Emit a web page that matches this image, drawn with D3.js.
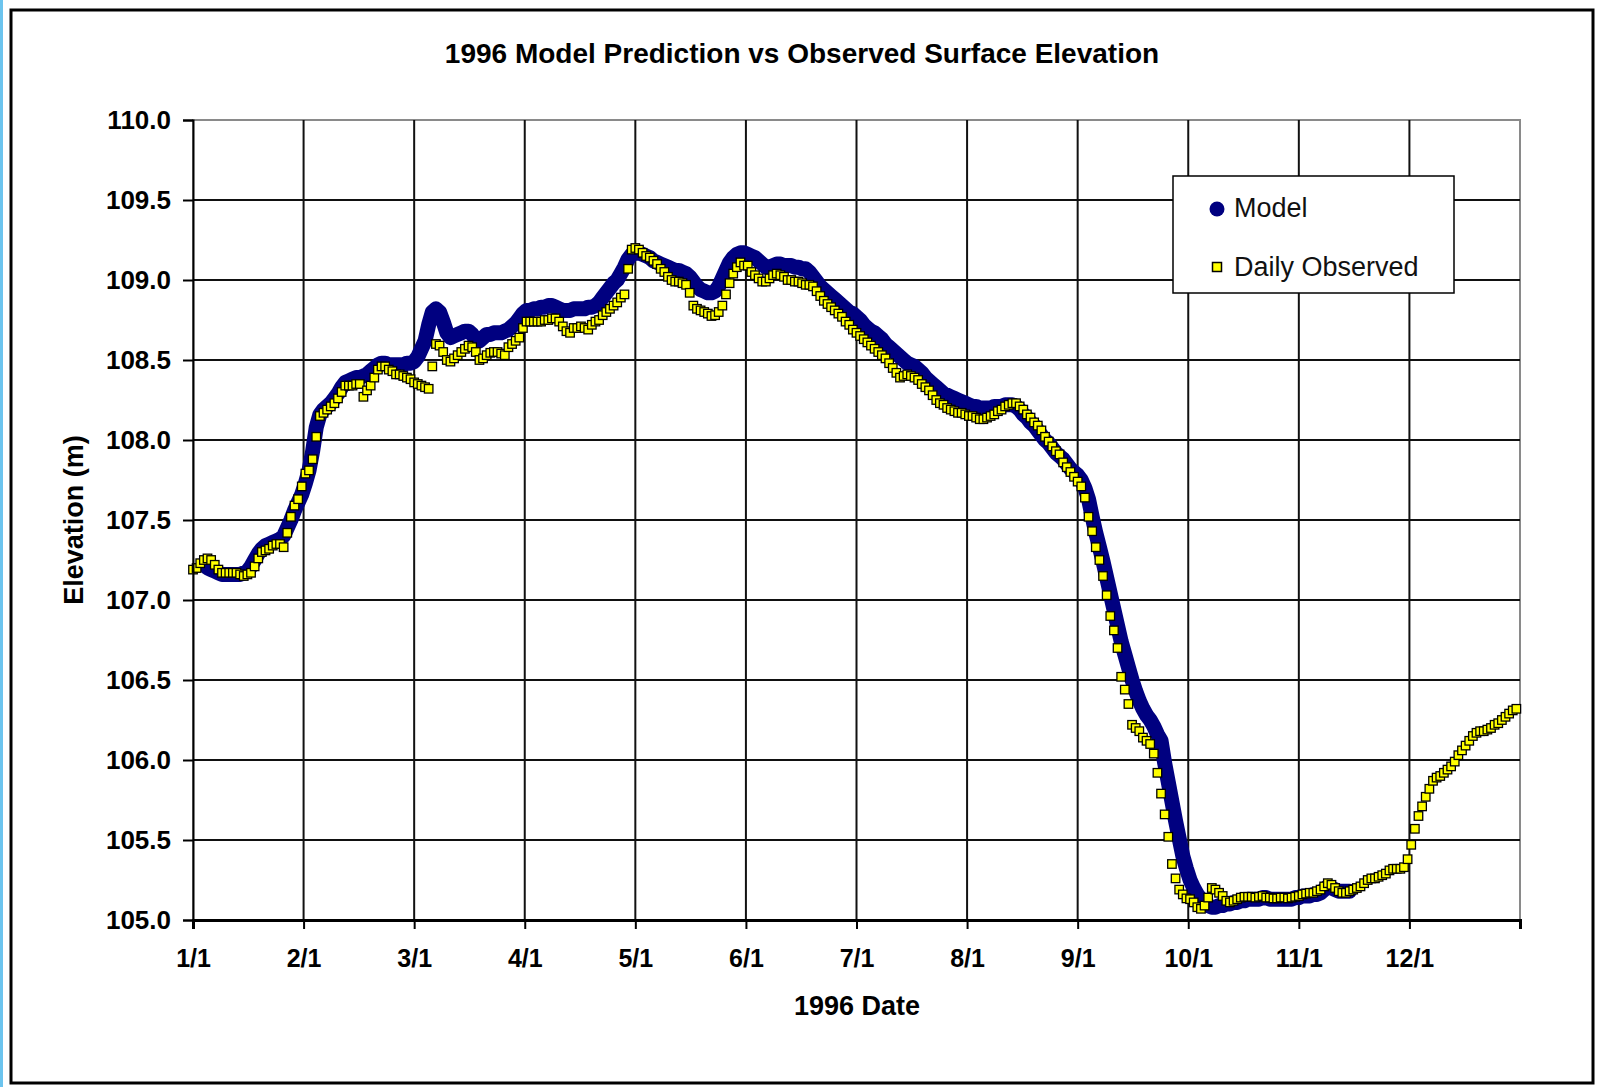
<!DOCTYPE html>
<html><head><meta charset="utf-8">
<script src="https://cdn.jsdelivr.net/npm/d3@7"></script>
<style>html,body{margin:0;padding:0;background:#fff;overflow:hidden}</style>
</head><body><svg id="c" width="1599" height="1087"></svg>
<script>
// ---------- DATA ----------
const monthLabels = ["1/1","2/1","3/1","4/1","5/1","6/1","7/1","8/1","9/1","10/1","11/1","12/1"];
const yTicks = [105.0,105.5,106.0,106.5,107.0,107.5,108.0,108.5,109.0,109.5,110.0];
const seriesNames = ["Model","Daily Observed"];

// Daily observed elevation (m), 1996, one value per day
const obsJan = [107.19,107.20,107.23,107.25,107.26,107.25,107.22,107.19,107.17,107.17,107.17,107.17,107.17,107.16,107.15,107.16,107.17,107.21,107.26,107.30,107.31,107.32,107.34,107.35,107.35,107.33,107.42,107.52,107.59,107.63,107.71];
const obsFeb = [107.79,107.81,107.88,108.02,108.15,108.17,108.19,108.21,108.23,108.26,108.30,108.34,108.34,108.34,108.35,108.35,108.27,108.31,108.34,108.39,108.44,108.46,108.46,108.44,108.43,108.41,108.41,108.40,108.39];
const obsMar = [108.38,108.36,108.35,108.34,108.33,108.32,108.46,108.60,108.59,108.55,108.50,108.49,108.51,108.53,108.55,108.57,108.59,108.58,108.55,108.50,108.51,108.53,108.545,108.55,108.55,108.54,108.53,108.58,108.60,108.62,108.64];
const obsApr = [108.70,108.74,108.74,108.74,108.74,108.74,108.75,108.75,108.76,108.76,108.74,108.71,108.68,108.67,108.70,108.70,108.71,108.70,108.69,108.72,108.74,108.75,108.78,108.80,108.82,108.84,108.86,108.89,108.91,109.07];
const obsMay = [109.19,109.20,109.19,109.17,109.15,109.14,109.12,109.10,109.07,109.05,109.02,109.00,108.99,108.99,108.98,108.97,108.92,108.84,108.82,108.81,108.80,108.79,108.775,108.78,108.80,108.84,108.91,108.98,109.04,109.08,109.11];
const obsJun = [109.09,109.09,109.05,109.03,109.01,108.99,108.99,109.01,109.03,109.04,109.03,109.02,109.00,109.00,108.99,108.99,108.98,108.97,108.97,108.96,108.93,108.90,108.87,108.85,108.83,108.81,108.79,108.77,108.74,108.72];
const obsJul = [108.69,108.67,108.65,108.63,108.61,108.59,108.57,108.55,108.53,108.51,108.48,108.45,108.42,108.39,108.40,108.41,108.40,108.39,108.375,108.35,108.33,108.31,108.28,108.25,108.23,108.22,108.20,108.19,108.18,108.17,108.17];
const obsAug = [108.16,108.15,108.15,108.14,108.13,108.13,108.14,108.15,108.16,108.18,108.19,108.21,108.22,108.23,108.23,108.21,108.19,108.16,108.14,108.11,108.09,108.06,108.02,107.99,107.96,107.93,107.91,107.86,107.83,107.80,107.77];
const obsSep = [107.74,107.71,107.64,107.52,107.43,107.33,107.25,107.15,107.03,106.90,106.81,106.70,106.52,106.44,106.35,106.22,106.20,106.18,106.14,106.12,106.10,106.04,105.92,105.79,105.66,105.52,105.35,105.26,105.19,105.16];
const obsOct = [105.135,105.13,105.11,105.08,105.07,105.09,105.14,105.20,105.19,105.17,105.15,105.12,105.11,105.12,105.13,105.14,105.145,105.145,105.145,105.14,105.145,105.15,105.14,105.14,105.135,105.135,105.14,105.14,105.135,105.14,105.145];
const obsNov = [105.15,105.16,105.165,105.17,105.17,105.18,105.19,105.21,105.23,105.22,105.20,105.18,105.17,105.17,105.18,105.19,105.20,105.21,105.23,105.25,105.26,105.26,105.27,105.28,105.29,105.31,105.32,105.32,105.32,105.33];
const obsDec = [105.38,105.47,105.57,105.65,105.71,105.77,105.82,105.87,105.89,105.90,105.92,105.94,105.96,105.99,106.03,106.06,106.09,106.12,106.15,106.17,106.18,106.18,106.19,106.20,106.22,106.23,106.25,106.27,106.29,106.31,106.32];

// Model prediction (m), daily, starting Jan 5 (day index 4) through Nov 15
const modelStartDay = 4;
const modJan = [107.20,107.19,107.18,107.17,107.16,107.16,107.16,107.16,107.16,107.16,107.17,107.18,107.21,107.25,107.29,107.32,107.34,107.35,107.36,107.37,107.38,107.40,107.45,107.50,107.56,107.61,107.66];
const modFeb = [107.73,107.81,107.93,108.08,108.16,108.19,108.21,108.23,108.26,108.29,108.33,108.36,108.37,108.38,108.39,108.39,108.40,108.41,108.43,108.45,108.47,108.48,108.48,108.47,108.47,108.47,108.47,108.47,108.48];
const modMar = [108.48,108.49,108.52,108.57,108.62,108.72,108.80,108.82,108.80,108.74,108.67,108.64,108.65,108.66,108.67,108.68,108.68,108.66,108.63,108.62,108.64,108.66,108.66,108.67,108.67,108.67,108.68,108.69,108.71,108.73,108.76];
const modApr = [108.79,108.81,108.81,108.82,108.82,108.83,108.83,108.84,108.84,108.83,108.82,108.81,108.81,108.81,108.82,108.82,108.82,108.82,108.83,108.83,108.84,108.86,108.89,108.92,108.95,108.98,109.00,109.04,109.08,109.13];
const modMay = [109.16,109.17,109.17,109.16,109.15,109.14,109.12,109.11,109.10,109.09,109.08,109.07,109.06,109.06,109.05,109.04,109.02,108.99,108.96,108.94,108.93,108.92,108.92,108.93,108.96,109.01,109.06,109.11,109.14,109.16,109.17];
const modJun = [109.17,109.16,109.15,109.14,109.12,109.10,109.08,109.08,109.09,109.10,109.10,109.09,109.09,109.09,109.08,109.08,109.07,109.07,109.05,109.02,108.99,108.96,108.94,108.92,108.90,108.88,108.86,108.84,108.82,108.80];
const modJul = [108.79,108.77,108.75,108.72,108.70,108.68,108.67,108.65,108.63,108.60,108.58,108.56,108.54,108.52,108.50,108.48,108.47,108.46,108.44,108.42,108.39,108.37,108.35,108.33,108.31,108.29,108.28,108.27,108.26,108.25,108.24];
const modAug = [108.23,108.22,108.21,108.21,108.20,108.20,108.20,108.20,108.21,108.21,108.21,108.22,108.22,108.22,108.21,108.19,108.16,108.14,108.11,108.09,108.06,108.03,108.00,107.98,107.95,107.92,107.90,107.88,107.85,107.82,107.80];
const modSep = [107.78,107.75,107.70,107.63,107.52,107.42,107.33,107.24,107.14,107.04,106.94,106.84,106.74,106.66,106.58,106.50,106.43,106.37,106.32,106.28,106.25,106.21,106.16,106.12,105.98,105.86,105.74,105.62,105.51,105.40];
const modOct = [105.32,105.25,105.20,105.16,105.13,105.10,105.09,105.08,105.08,105.09,105.09,105.10,105.10,105.11,105.11,105.12,105.12,105.13,105.13,105.13,105.13,105.14,105.14,105.13,105.13,105.13,105.13,105.13,105.13,105.13,105.14];
const modNov = [105.14,105.15,105.15,105.15,105.16,105.16,105.17,105.19,105.21,105.20,105.19,105.18,105.18,105.18,105.18];

const observed = [].concat(obsJan,obsFeb,obsMar,obsApr,obsMay,obsJun,obsJul,obsAug,obsSep,obsOct,obsNov,obsDec)
  .map((v,i)=>({day:i, v:v}));
const model = [].concat(modJan,modFeb,modMar,modApr,modMay,modJun,modJul,modAug,modSep,modOct,modNov)
  .map((v,i)=>({day:i+modelStartDay, v:v}));

// ---------- CHART ----------
const svg = d3.select("#c");
const X0 = 193, X1 = 1520, Y0 = 120, Y1 = 920;
const x = d3.scaleLinear().domain([0,366]).range([X0,X1]);
const y = d3.scaleLinear().domain([105,110]).range([Y1,Y0]);
const monthTicks = d3.range(13).map(i=>i*30.5);
const FONT = "'Liberation Sans', Arial, sans-serif";

svg.append("rect").attr("width",1599).attr("height",1087).attr("fill","#fff");
svg.append("rect").attr("x",0).attr("y",0).attr("width",3).attr("height",1087).attr("fill","#6cc4ee");
svg.append("rect").attr("x",11).attr("y",10).attr("width",1582).attr("height",1073)
  .attr("fill","none").attr("stroke","#000").attr("stroke-width",3);

// plot area border (gray)
svg.append("rect").attr("x",X0).attr("y",Y0).attr("width",X1-X0).attr("height",Y1-Y0)
  .attr("fill","#fff").attr("stroke","#8a8a8a").attr("stroke-width",2);

// gridlines
const grid = svg.append("g");
grid.selectAll("line.h").data(yTicks.filter(t=>t>105 && t<110)).join("line")
  .attr("x1",X0).attr("x2",X1).attr("y1",d=>y(d)).attr("y2",d=>y(d))
  .attr("stroke","#111").attr("stroke-width",2);
grid.selectAll("line.v").data(monthTicks.slice(1,12)).join("line")
  .attr("y1",Y0).attr("y2",Y1).attr("x1",d=>x(d)).attr("x2",d=>x(d))
  .attr("stroke","#111").attr("stroke-width",2);

// model band
const line = d3.line().x(d=>x(d.day)).y(d=>y(d.v)).curve(d3.curveLinear);
svg.append("path").datum(model).attr("d",line).attr("fill","none")
  .attr("stroke","#000080").attr("stroke-width",15)
  .attr("stroke-linejoin","round").attr("stroke-linecap","round");

// observed squares
const S = 8.5;
svg.append("g").selectAll("rect").data(observed).join("rect")
  .attr("x",d=>x(d.day)-S/2).attr("y",d=>y(d.v)-S/2).attr("width",S).attr("height",S)
  .attr("fill","#ffff00").attr("stroke","#000").attr("stroke-width",1.3);

// axes
const yAxis = d3.axisLeft(y).tickValues(yTicks).tickFormat(d3.format(".1f")).tickSize(10).tickPadding(12);
const gy = svg.append("g").attr("transform",`translate(${X0},0)`).call(yAxis);
gy.select(".domain").attr("stroke","#000").attr("stroke-width",2);
gy.selectAll(".tick line").attr("stroke","#000").attr("stroke-width",2);
gy.selectAll("text").attr("font-family",FONT).attr("font-weight","bold").attr("font-size",26).attr("fill","#000");

const xAxis = d3.axisBottom(x).tickValues(monthTicks).tickFormat((d,i)=> i<12 ? monthLabels[i] : "").tickSize(9).tickPadding(20);
const gx = svg.append("g").attr("transform",`translate(0,${Y1})`).call(xAxis);
gx.select(".domain").attr("stroke","#000").attr("stroke-width",3);
gx.selectAll(".tick line").attr("stroke","#000").attr("stroke-width",2);
gx.selectAll("text").attr("font-family",FONT).attr("font-weight","bold").attr("font-size",25).attr("fill","#000");

// titles
svg.append("text").attr("x",802).attr("y",63).attr("text-anchor","middle")
  .attr("font-family",FONT).attr("font-weight","bold").attr("font-size",28)
  .text("1996 Model Prediction vs Observed Surface Elevation");
svg.append("text").attr("x",857).attr("y",1015).attr("text-anchor","middle")
  .attr("font-family",FONT).attr("font-weight","bold").attr("font-size",27)
  .text("1996 Date");
svg.append("text").attr("transform","translate(83,520) rotate(-90)").attr("text-anchor","middle")
  .attr("font-family",FONT).attr("font-weight","bold").attr("font-size",27)
  .text("Elevation (m)");

// legend
const lg = svg.append("g");
lg.append("rect").attr("x",1173).attr("y",176).attr("width",281).attr("height",117)
  .attr("fill","#fff").attr("stroke","#000").attr("stroke-width",1.5);
lg.append("circle").attr("cx",1217).attr("cy",209).attr("r",7.5).attr("fill","#000080");
lg.append("rect").attr("x",1217-4.5).attr("y",267-4.5).attr("width",9).attr("height",9)
  .attr("fill","#ffff00").attr("stroke","#000").attr("stroke-width",1.5);
lg.selectAll("text.l").data(seriesNames).join("text")
  .attr("x",1234).attr("y",(d,i)=> i===0 ? 217 : 276)
  .attr("font-family",FONT).attr("font-size",27).attr("fill","#111")
  .text(d=>d);
</script></body></html>
